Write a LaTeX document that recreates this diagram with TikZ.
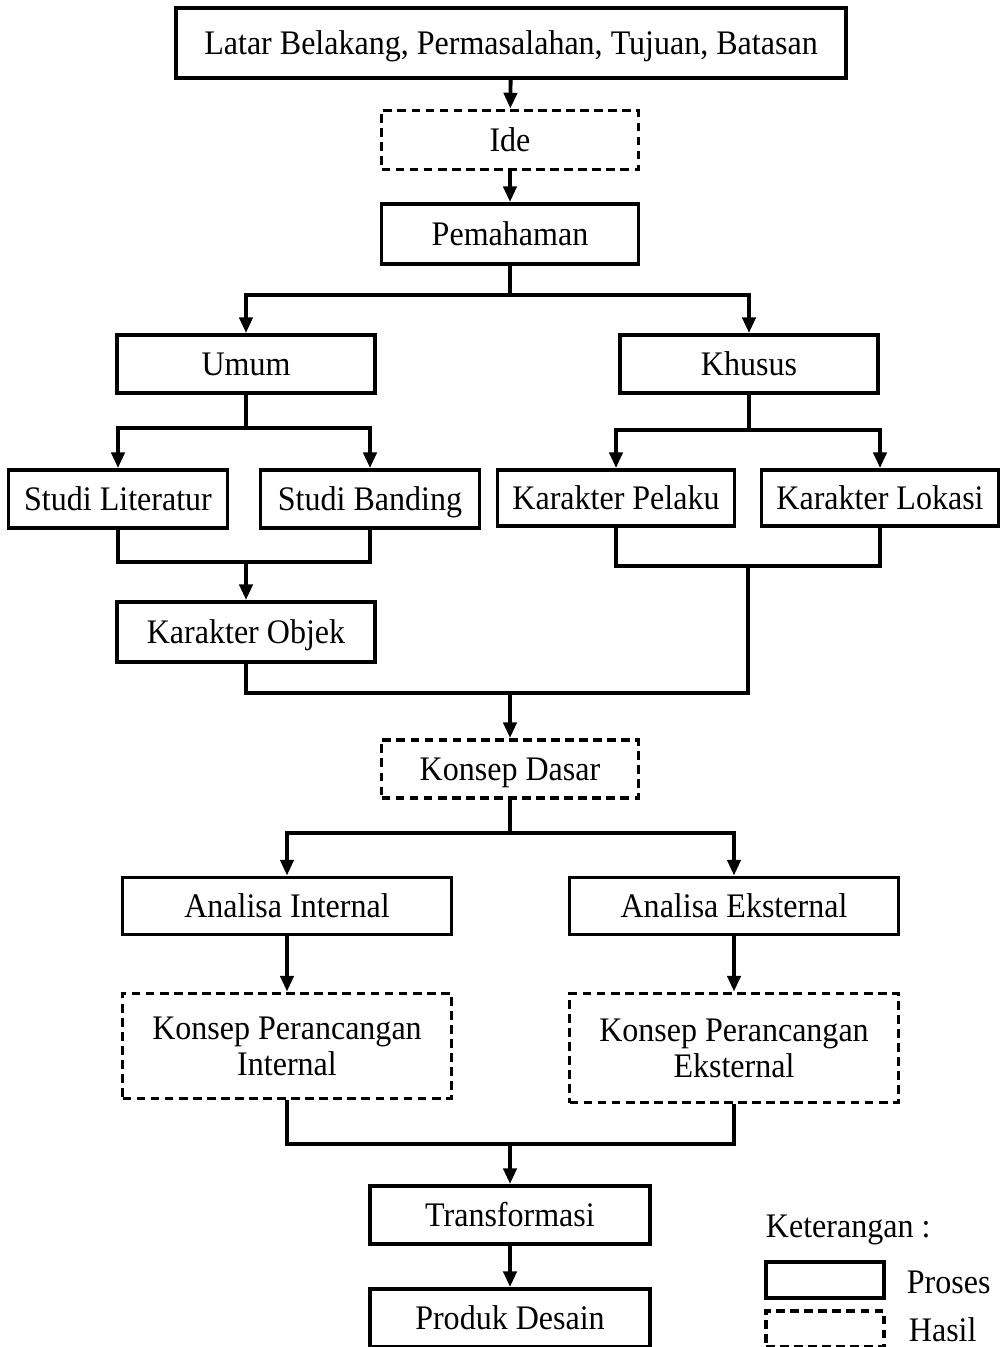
\documentclass[tikz,border=0pt]{standalone}
\usepackage{fontspec}
\setmainfont[FakeStretch=0.93]{Liberation Serif}
\usetikzlibrary{arrows.meta}

\begin{document}
\begin{tikzpicture}[x=0.02cm, y=-0.02cm, >={Triangle[length=9pt,width=7.5pt]}, line width=2.2pt, box/.style={rectangle,draw,inner sep=0pt,align=center,minimum height=1.16cm,font=\fontsize{19.6}{20.5}\selectfont}, main node/.style={box,text height=13pt,text depth=0pt}, hasil node/.style={main node,dash pattern=on 5pt off 3pt}, hasil box/.style={box,dash pattern=on 5pt off 3pt}, label node/.style={anchor=west,inner sep=0pt,text height=13pt,text depth=0pt,font=\fontsize{19.6}{20.5}\selectfont}]
                \useasboundingbox (0,0) rectangle (1001,1347);

                \node[main node, minimum width=13.4cm, minimum height=1.4cm] (1) at (511,43) {Latar Belakang, Permasalahan, Tujuan, Batasan};
                \node[hasil node, minimum width=5.14cm, minimum height=1.18cm] (2) at (510,140) {Ide};
                \node[main node, minimum width=5.14cm, minimum height=1.2cm] (3) at (510,234) {Pemahaman};

                \node[main node, minimum width=5.16cm] (4) at (246,364) {Umum};
                \node[main node, minimum width=5.16cm] (5) at (749,364) {Khusus};
                \node[main node, minimum width=4.38cm] (6) at (118,499) {Studi Literatur};
                \node[main node, minimum width=4.38cm] (7) at (370,499) {Studi Banding};
                \node[main node, minimum width=4.74cm, minimum height=1.12cm] (8) at (616,498) {Karakter Pelaku};
                \node[main node, minimum width=4.74cm, minimum height=1.12cm] (9) at (880,498) {Karakter Lokasi};
                \node[main node, minimum width=5.16cm, minimum height=1.2cm] (10) at (246,632) {Karakter Objek};

                \node[hasil node, minimum width=5.14cm] (11) at (510,769) {Konsep Dasar};
                \node[main node, minimum width=6.58cm, minimum height=1.14cm] (12) at (287,906) {Analisa Internal};
                \node[main node, minimum width=6.58cm, minimum height=1.14cm] (13) at (734,906) {Analisa Eksternal};
                \node[hasil box, minimum width=6.58cm, minimum height=2.1cm] (14) at (287,1046) {Konsep Perancangan\\Internal};
                \node[hasil box, minimum width=6.58cm, minimum height=2.18cm] (15) at (734,1048) {Konsep Perancangan\\Eksternal};
                \node[main node, minimum width=5.6cm] (16) at (510,1215) {Transformasi};
                \node[main node, minimum width=5.6cm] (17) at (510,1318) {Produk Desain};

                % keterangan
                \node[label node] (18) at (764,1226) {Keterangan :};
                \node[main node, minimum width=2.36cm, minimum height=0.72cm] (19) at (825,1280) {};
                \node[label node] (20) at (905,1282) {Proses};
                \node[hasil node, minimum width=2.36cm, minimum height=0.72cm] (21) at (825,1329) {};
                \node[label node] (22) at (907,1330) {Hasil};

                \coordinate (a) at (510,295);
                \coordinate (b) at (246,428);
                \coordinate (c) at (749,430);
                \coordinate (d) at (246,562);
                \coordinate (e) at (748,566);
                \coordinate (f) at (510,693);
                \coordinate (g) at (510,833);
                \coordinate (h) at (510,1144);

                \path[->]
                    (1) edge (2)
                    (2) edge (3)
                    (d) edge (10)
                    (f) edge (11)
                    (12) edge (14)
                    (13) edge (15)
                    (h) edge (16)
                    (16) edge (17)
                ;
                \draw (3) -- (a);
                \draw[->] (a) -| (4);
                \draw[->] (a) -| (5);
                \draw (4) -- (b);
                \draw[->] (b) -| (6);
                \draw[->] (b) -| (7);
                \draw (5) -- (c);
                \draw[->] (c) -| (8);
                \draw[->] (c) -| (9);
                \draw (6) |- (d) -| (7);
                \draw (8) |- (e) -| (9);
                \draw (10) |- (f);
                \draw (e) |- (f);
                \draw (11) -- (g);
                \draw[->] (g) -| (12);
                \draw[->] (g) -| (13);
                \draw (14) |- (h) -| (15);
            \end{tikzpicture}
\end{document}
